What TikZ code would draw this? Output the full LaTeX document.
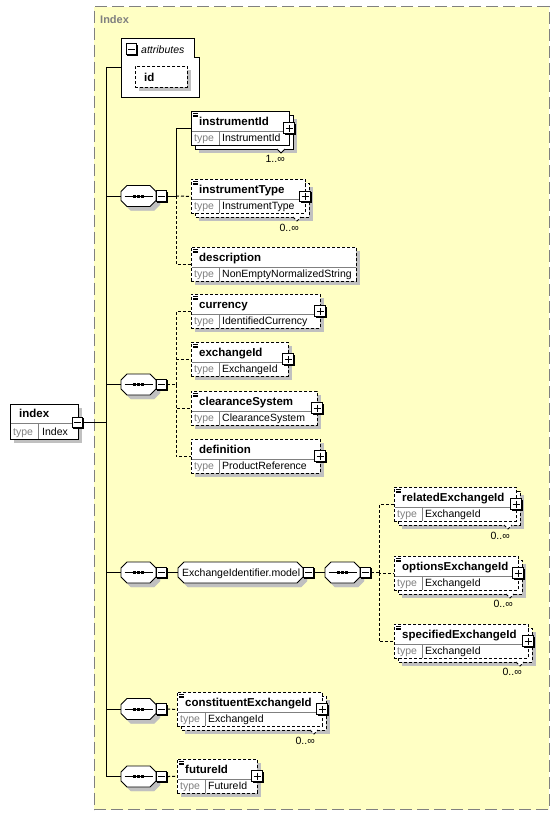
\documentclass[tikz,border=0pt]{standalone}
\usepackage{fontspec}
\setmainfont{Liberation Sans}
\usetikzlibrary{calc}
\definecolor{bgy}{RGB}{255,255,196}
\definecolor{shd}{RGB}{192,192,192}
\definecolor{tg}{RGB}{128,128,128}
\tikzset{
 dsh/.style={dash pattern=on 3pt off 2pt},
 sld/.style={},
 lbl/.style={inner sep=0, anchor=base west, font=\fontsize{11.5}{14}\selectfont\bfseries},
 typ/.style={inner sep=0, anchor=base west, font=\fontsize{10.5}{12}\selectfont, text=tg},
 val/.style={inner sep=0, anchor=base west, font=\fontsize{10.5}{12}\selectfont},
 mult/.style={inner sep=0, anchor=base east, font=\fontsize{10.5}{12}\selectfont},
 conn/.style={line width=1pt},
 dconn/.style={line width=1pt, dash pattern=on 3pt off 2pt},
}
% octagon: cx cy halfw halfh chamfer style
\newcommand\octdraw[6]{\draw[#6] (#1-#3+#5,#2-#4) -- (#1+#3-#5,#2-#4) -- (#1+#3,#2-#4+#5) -- (#1+#3,#2+#4-#5) -- (#1+#3-#5,#2+#4) -- (#1-#3+#5,#2+#4) -- (#1-#3,#2+#4-#5) -- (#1-#3,#2-#4+#5) -- cycle;}
% plus/minus box: name cx cy sign
\newcommand\pmbox[4]{%
  \fill[black] (#2-4.2,#3-4.2) rectangle (#2+6.8,#3+6.8);
  \node[draw, line width=0.9pt, fill=white, minimum size=10.5pt, inner sep=0] (#1) at (#2,#3) {};
  \draw[line width=1pt] (#2-3.5,#3) -- (#2+3.5,#3);
  \ifx#4+\draw[line width=1pt] (#2,#3-3.5) -- (#2,#3+3.5);\fi
}
% sequence compositor: name cx cy
\newcommand\seqnode[3]{%
  \octdraw{#2+4}{#3+4}{17.5}{10.5}{6}{shd, fill=shd}
  \node[inner sep=0, minimum width=35pt, minimum height=21pt] (#1) at (#2,#3) {};
  \octdraw{#2}{#3}{17.5}{10.5}{6}{line width=0.9pt, fill=white}
  \draw[line width=0.9pt] (#2-14,#3) -- (#2+14,#3);
  \fill (#2-5.5,#3-1.5) rectangle ++(3,3);
  \fill (#2-1.5,#3-1.5) rectangle ++(3,3);
  \fill (#2+2.5,#3-1.5) rectangle ++(3,3);
}
% element: name x y w title type style icon stacked
\newcommand\elem[9]{%
  \ifnum#9=1
    \fill[shd] (#2+8,#3+8) rectangle (#2+#4+8,#3+42);
    \draw[#7, line width=0.9pt, fill=white] (#2+4,#3+4) rectangle (#2+#4+4,#3+38);
    \draw[#7, line width=0.9pt, fill=white] (#2+#4-12,#3+38) -- (#2+#4-8,#3+42) -- (#2+#4-4,#3+38);
  \else
    \fill[shd] (#2+4,#3+4) rectangle (#2+#4+4,#3+38);
  \fi
  \node[draw, #7, line width=0.9pt, fill=white, minimum width=#4pt, minimum height=34pt, inner sep=0, anchor=north west] (#1) at (#2,#3) {};
  \draw[tg, line width=0.8pt] (#2+0.5,#3+20) -- (#2+#4-0.5,#3+20);
  \draw[tg, line width=0.8pt] (#2+28,#3+20) -- (#2+28,#3+33.5);
  \ifnum#8=1
    \draw[line width=0.7pt] (#2+2,#3+2.2) -- ++(5,0) (#2+2,#3+3.9) -- ++(5,0) (#2+2,#3+5.6) -- ++(5,0);
  \fi
  \node[lbl] (#1-t) at (#2+8,#3+14) {#5};
  \node[typ] (#1-k) at (#2+3,#3+30.5) {type};
  \node[val] (#1-v) at (#2+31,#3+30.5) {#6};
}
\begin{document}
\begin{tikzpicture}[x=1pt,y=-1pt]
\useasboundingbox (0,0) rectangle (559,815);
% frame
\node[draw=tg, fill=bgy, line width=1.2pt, dash pattern=on 12pt off 5pt, minimum width=455pt, minimum height=803pt, anchor=north west, inner sep=0] (frame) at (93.5,6) {};
\node[anchor=base west, inner sep=0, font=\fontsize{11}{13}\selectfont\bfseries, text=tg] (ftitle) at (100,23) {Index};

% attributes
\node[inner sep=0, minimum width=78pt, minimum height=59pt] (attrs) at (160,67.5) {};
\draw[line width=0.9pt, fill=white] (121,38) -- (194,38) -- (194,57.5) -- (199,57.5) -- (199,97) -- (121,97) -- cycle;
\pmbox{attrm}{131.5}{49}{-}
\node[anchor=base west, inner sep=0, font=\fontsize{10.5}{12}\selectfont\itshape] (attrt) at (141,53) {attributes};
\fill[shd] (139,70) rectangle (191,91);
\node[draw, dsh, line width=0.9pt, fill=white, minimum width=52pt, minimum height=21pt, inner sep=0, anchor=north west] (idbox) at (135,66) {};
\node[lbl] (idt) at (144,81) {id};

% index root
\fill[shd] (14,408) rectangle (82,443);
\node[draw, line width=0.9pt, fill=white, minimum width=68pt, minimum height=35pt, inner sep=0, anchor=north west] (index) at (10,404) {};
\draw[tg, line width=0.8pt] (10.5,423) -- (77.5,423);
\draw[tg, line width=0.8pt] (38,423) -- (38,438.5);
\node[lbl] (index-t) at (19,417.5) {index};
\node[typ] (index-k) at (13,435) {type};
\node[val] (index-v) at (42,435) {Index};
\pmbox{indexm}{77.5}{422.5}{-}

% trunk
\coordinate (t0) at (106,67.5);
\coordinate (ti) at (106,422.5);
\coordinate (t1) at (106,196);
\coordinate (t2) at (106,384.5);
\coordinate (t3) at (106,572.5);
\coordinate (t4) at (106,709);
\coordinate (t5) at (106,776.5);

% sequences
\seqnode{s1}{138.5}{196}
\pmbox{s1m}{161.5}{196}{-}
\seqnode{s2}{138.5}{384.5}
\pmbox{s2m}{161.5}{384.5}{-}
\seqnode{s3}{138.5}{572.5}
\pmbox{s3m}{161.5}{572.5}{-}
\seqnode{s4}{138.5}{709}
\pmbox{s4m}{161.5}{709}{-}
\seqnode{s5}{138.5}{776.5}
\pmbox{s5m}{161.5}{776.5}{-}

\draw[conn] (attrs.west) -- (t0) -- (t5) -- (s5.west);
\draw[conn] (indexm.east) -- (ti);
\draw[conn] (t1) -- (s1.west);
\draw[conn] (t2) -- (s2.west);
\draw[conn] (t3) -- (s3.west);
\draw[conn] (t4) -- (s4.west);

% group 1
\elem{instrumentId}{191}{111}{98}{instrumentId}{InstrumentId}{sld}{1}{1}
\pmbox{instrumentIdp}{289}{128}{+}
\node[mult] (instrumentId-m) at (285,162) {1..∞};
\elem{instrumentType}{191}{179}{114}{instrumentType}{InstrumentType}{dsh}{1}{1}
\pmbox{instrumentTypep}{305}{196.5}{+}
\node[mult] (instrumentType-m) at (299,231) {0..∞};
\elem{description}{191}{247}{165}{description}{NonEmptyNormalizedString}{dsh}{1}{0}
\coordinate (b1) at (176,196);
\draw[conn] (s1m.east) -- (b1) |- (instrumentId.west);
\draw[dconn] (b1) -- (instrumentType.west);
\draw[dconn] (b1) |- (description.west);

% group 2
\elem{currency}{191}{294}{129}{currency}{IdentifiedCurrency}{dsh}{1}{0}
\pmbox{currencyp}{320}{311}{+}
\elem{exchangeId}{191}{342}{97}{exchangeId}{ExchangeId}{dsh}{1}{0}
\pmbox{exchangeIdp}{288}{359}{+}
\elem{clearanceSystem}{191}{391}{126}{clearanceSystem}{ClearanceSystem}{dsh}{1}{0}
\pmbox{clearanceSystemp}{317}{408}{+}
\elem{definition}{191}{439}{129}{definition}{ProductReference}{dsh}{0}{0}
\pmbox{definitionp}{320}{456}{+}
\coordinate (b2) at (176,384.5);
\draw[dconn] (s2m.east) -- (b2);
\draw[dconn] (b2) |- (currency.west);
\draw[dconn] (b2) |- (exchangeId.west);
\draw[dconn] (b2) |- (clearanceSystem.west);
\draw[dconn] (b2) |- (definition.west);

% group 3
\octdraw{244.5}{576.5}{62.5}{10.5}{6}{shd, fill=shd}
\node[inner sep=0, minimum width=125pt, minimum height=21pt] (model) at (240.5,572.5) {};
\octdraw{240.5}{572.5}{62.5}{10.5}{6}{line width=0.9pt, fill=white}
\node[val] (model-t) at (182,576.5) {ExchangeIdentifier.model};
\pmbox{modelm}{308.5}{572.5}{-}
\seqnode{s6}{342.5}{572.5}
\pmbox{s6m}{365.5}{572.5}{-}
\draw[conn] (s3m.east) -- (model.west);
\draw[conn] (modelm.east) -- (s6.west);

\elem{relatedExchangeId}{394}{487}{122}{relatedExchangeId}{ExchangeId}{dsh}{1}{1}
\pmbox{relatedExchangeIdp}{516}{504}{+}
\node[mult] (relatedExchangeId-m) at (510,539) {0..∞};
\elem{optionsExchangeId}{394}{556}{124}{optionsExchangeId}{ExchangeId}{dsh}{1}{1}
\pmbox{optionsExchangeIdp}{518}{573}{+}
\node[mult] (optionsExchangeId-m) at (513,607) {0..∞};
\elem{specifiedExchangeId}{394}{624}{134}{specifiedExchangeId}{ExchangeId}{dsh}{1}{1}
\pmbox{specifiedExchangeIdp}{528}{641}{+}
\node[mult] (specifiedExchangeId-m) at (522,675) {0..∞};
\coordinate (b3) at (379,572.5);
\draw[dconn] (s6m.east) -- (b3);
\draw[dconn] (b3) |- (relatedExchangeId.west);
\draw[dconn] (b3) |- (optionsExchangeId.west);
\draw[dconn] (b3) |- (specifiedExchangeId.west);

% group 4
\elem{constituentExchangeId}{177}{692}{145}{constituentExchangeId}{ExchangeId}{dsh}{1}{1}
\pmbox{constituentExchangeIdp}{322}{709}{+}
\node[mult] (constituentExchangeId-m) at (315,744) {0..∞};
\draw[dconn] (s4m.east) -- (constituentExchangeId.west);

% group 5
\elem{futureId}{177}{759}{80}{futureId}{FutureId}{dsh}{1}{0}
\pmbox{futureIdp}{257}{776}{+}
\draw[dconn] (s5m.east) -- (futureId.west);
\end{tikzpicture}
\end{document}
